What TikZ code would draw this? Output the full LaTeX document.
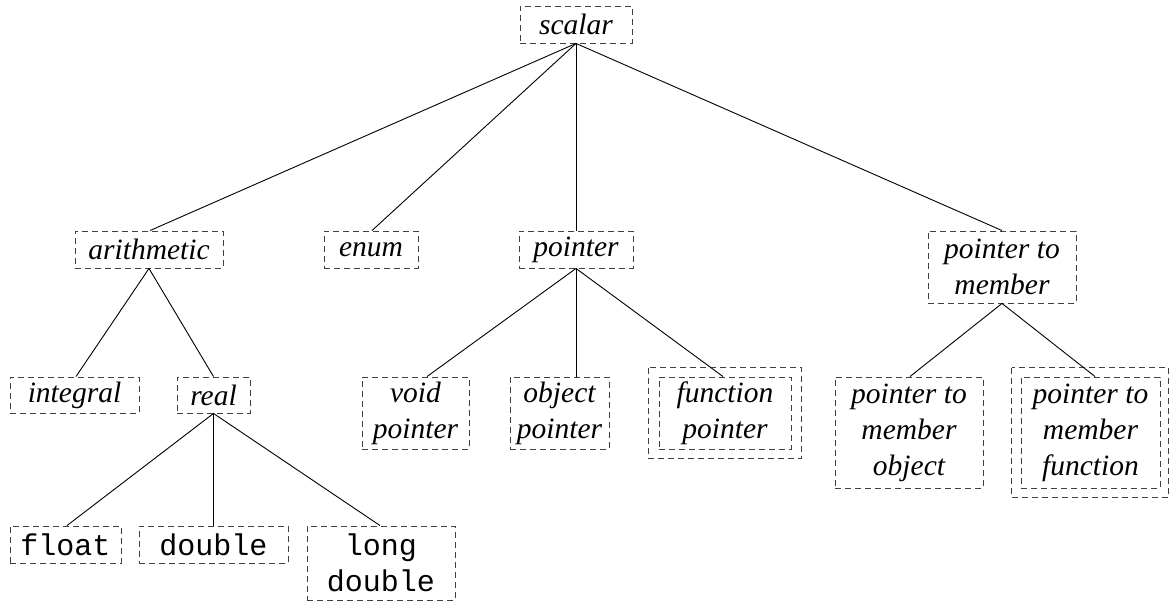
\documentclass[tikz,border=0pt]{standalone}
\usepackage{fontspec}
\setmainfont{Liberation Serif}
\setmonofont{Liberation Mono}
\begin{document}
\begin{tikzpicture}[x=1pt,y=-1pt,
  box/.style={draw=black!75, line width=0.9pt, dash pattern=on 6pt off 4pt,
    align=center, inner sep=0pt, font=\fontsize{29.5}{36}\selectfont\itshape},
  mbox/.style={box, font=\fontsize{30}{36}\selectfont\ttfamily},
  outer/.style={draw=black!75, line width=0.9pt, dash pattern=on 6pt off 4pt},
  edge/.style={line width=0.9pt}]
\useasboundingbox (0,0) rectangle (1171,601);

\node[box, minimum width=112pt, minimum height=37pt] (scalar) at (576,24.5) {scalar};

\node[box, minimum width=148pt, minimum height=37pt] (arith) at (149,249.5) {arithmetic};
\node[box, minimum width=94pt, minimum height=37pt] (enum) at (371,249.5) {enum};
\node[box, minimum width=114pt, minimum height=37pt] (pointer) at (576,249.5) {pointer};
\node[box, minimum width=148pt, minimum height=72pt] (ptm) at (1002,267) {pointer to\\member};

\node[box, minimum width=129pt, minimum height=36pt] (integral) at (74.5,395) {integral};
\node[box, minimum width=73pt, minimum height=36pt] (real) at (213.5,395) {real};

\node[box, minimum width=107pt, minimum height=72pt] (void) at (415.5,413) {void\\pointer};
\node[box, minimum width=99pt, minimum height=72pt] (object) at (559.5,413) {object\\pointer};
\node[box, minimum width=132pt, minimum height=72pt] (function) at (725,413) {function\\pointer};
\draw[outer] ([shift={(-10,-9)}]function.north west) rectangle ([shift={(10,9)}]function.south east);

\node[box, minimum width=148pt, minimum height=111pt] (ptmobj) at (909,432.5) {pointer to\\member\\object};
\node[box, minimum width=139pt, minimum height=111pt] (ptmfun) at (1090.5,432.5) {pointer to\\member\\function};
\draw[outer] ([shift={(-9,-9)}]ptmfun.north west) rectangle ([shift={(8,9)}]ptmfun.south east);

\node[mbox, minimum width=111pt, minimum height=37pt] (float) at (65.5,544.5) {float};
\node[mbox, minimum width=149pt, minimum height=37pt] (double) at (213.5,544.5) {double};
\node[mbox, minimum width=148pt, minimum height=74pt] (longdouble) at (381,563) {long\\double};

\draw[edge] (scalar.south) -- ([xshift=1]arith.north);
\draw[edge] (scalar.south) -- ([xshift=1]enum.north);
\draw[edge] (scalar.south) -- (pointer.north);
\draw[edge] (scalar.south) -- (ptm.north);
\draw[edge] (arith.south) -- ([xshift=1.5]integral.north);
\draw[edge] (arith.south) -- (real.north);
\draw[edge] (pointer.south) -- ([xshift=11.5]void.north);
\draw[edge] (pointer.south) -- (object.north -| pointer.south);
\draw[edge] (pointer.south) -- ([xshift=-2]function.north);
\draw[edge] (ptm.south) -- ([xshift=1]ptmobj.north);
\draw[edge] (ptm.south) -- ([xshift=4.5]ptmfun.north);
\draw[edge] (real.south) -- ([xshift=1.5]float.north);
\draw[edge] (real.south) -- (double.north);
\draw[edge] (real.south) -- ([xshift=-1]longdouble.north);
\end{tikzpicture}
\end{document}
